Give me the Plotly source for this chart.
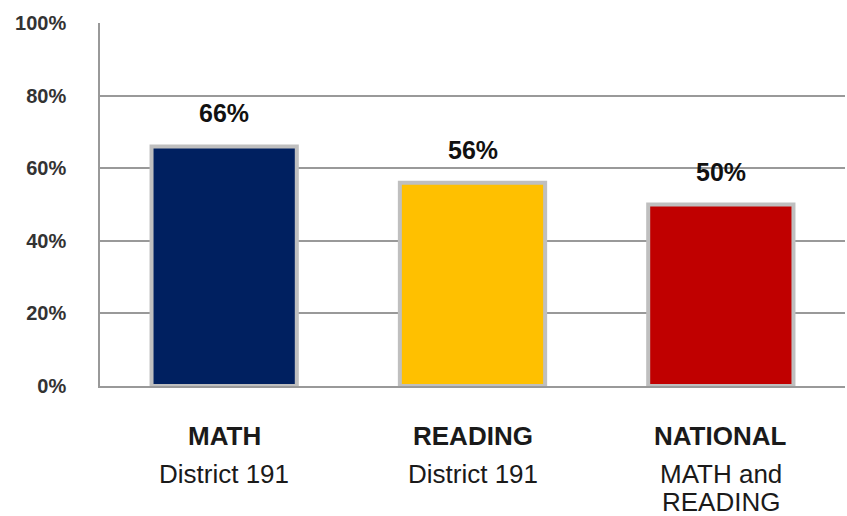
import plotly.graph_objects as go

categories = ["MATH", "READING", "NATIONAL"]
subtitles = [["District 191"], ["District 191"], ["MATH and", "READING"]]
values = [66, 56, 50]
value_labels = ["66%", "56%", "50%"]
colors = ["#002060", "#FFC000", "#C00000"]
tick_vals = [0, 20, 40, 60, 80, 100]
tick_text = ["0%", "20%", "40%", "60%", "80%", "100%"]

fig = go.Figure()
fig.add_trace(go.Bar(
    x=categories, y=values,
    marker=dict(color=colors, line=dict(color="#BFBFBF", width=4)),
    width=0.585, hoverinfo="skip",
))

annotations = []
for c, v, lab in zip(categories, values, value_labels):
    annotations.append(dict(
        x=c, y=v, xref="x", yref="y", text=lab, showarrow=False,
        yanchor="middle", yshift=33,
        font=dict(family="Liberation Sans", size=25, color="#111111", weight="bold"),
    ))
for c, subs in zip(categories, subtitles):
    annotations.append(dict(
        x=c, y=0, xref="x", yref="paper", text=c, showarrow=False,
        yanchor="middle", yshift=-50,
        font=dict(family="Liberation Sans", size=26, color="#1a1a1a", weight="bold"),
    ))
    for i, s in enumerate(subs):
        annotations.append(dict(
            x=c, y=0, xref="x", yref="paper", text=s, showarrow=False,
            yanchor="middle", yshift=-88 - 28 * i,
            font=dict(family="Liberation Sans", size=26, color="#1a1a1a"),
        ))

fig.update_layout(
    width=847, height=516,
    margin=dict(l=100, r=2, t=23, b=130),
    paper_bgcolor="white", plot_bgcolor="white",
    showlegend=False,
    annotations=annotations,
)
fig.update_xaxes(
    showticklabels=False, showgrid=False, ticks="",
    showline=True, linecolor="#999999", linewidth=1.5,
    range=[-0.5, 2.5],
)
fig.update_yaxes(
    range=[0, 100], tickvals=tick_vals, ticktext=tick_text,
    showgrid=True, gridcolor="#999999", gridwidth=1.5,
    showline=True, linecolor="#999999", linewidth=1.5,
    zeroline=False, ticks="", ticklabelstandoff=28,
    tickfont=dict(family="Liberation Sans", size=20, color="#333333", weight="bold"),
)

fig.write_html(
    "out.html",
    config={"displayModeBar": False},
    post_script="document.body.style.margin='0px';document.body.style.overflow='hidden';",
)
